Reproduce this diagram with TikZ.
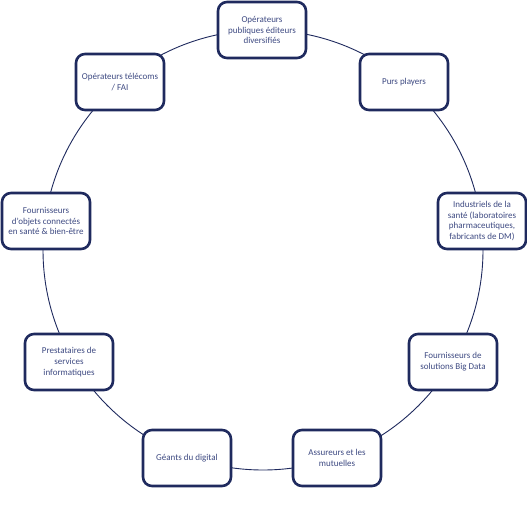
\documentclass[tikz,border=0pt]{standalone}
\usepackage{fontspec}
\setmainfont{Carlito}
\usetikzlibrary{positioning}
\definecolor{navy}{HTML}{1F2A5E}
\definecolor{txtblue}{HTML}{3E4A82}

\begin{document}
\begin{tikzpicture}[x=1pt, y=-1pt,
	actor/.style={draw=navy, line width=2.6pt, rounded corners=9pt, fill=white,
		minimum width=88pt, minimum height=56pt, align=center, inner sep=2pt,
		font=\fontsize{9}{10.8}\selectfont, text=txtblue}]
		\useasboundingbox (0,0) rectangle (527,504);
		\coordinate (c) at (263,250);
		\draw[navy, line width=0.9pt] (c) circle (220pt);
		
		\node[actor] (publics) at (262,30) {Opérateurs\\publiques éditeurs\\diversifiés};
		\node[actor] (purs) at (404,82) {Purs players};
		\node[actor] (indus) at (482,221) {Industriels de la\\santé (laboratoires\\pharmaceutiques,\\fabricants de DM)};
		\node[actor] (bigdata) at (453,362) {Fournisseurs de\\solutions Big Data};
		\node[actor] (assur) at (337,458) {Assureurs et les\\mutuelles};
		\node[actor] (geants) at (187,458) {Géants du digital};
		\node[actor] (presta) at (69,362) {Prestataires de\\services\\informatiques};
		\node[actor] (objets) at (46,221) {Fournisseurs\\d'objets connectés\\en santé \& bien-être};
		\node[actor] (telecom) at (120,82) {Opérateurs télécoms\\/ FAI};
	\end{tikzpicture}
\end{document}
